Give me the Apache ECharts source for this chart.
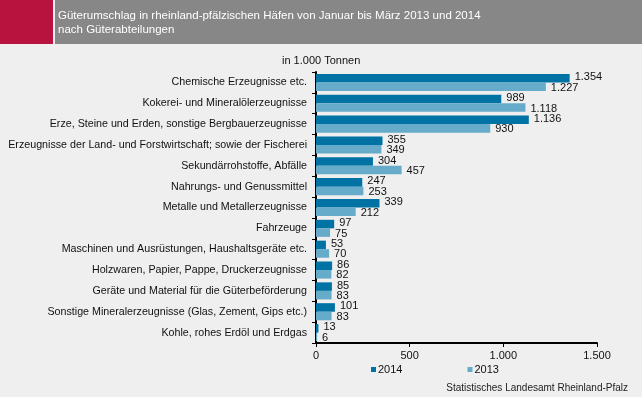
<!DOCTYPE html>
<html>
<head>
<meta charset="utf-8">
<script src="https://cdn.jsdelivr.net/npm/echarts@6/dist/echarts.min.js"></script>
<style>
  html,body{margin:0;padding:0;background:#eeefee;}
  #chart{width:642px;height:397px;}
</style>
</head>
<body>
<div id="chart"></div>
<script>
// ===== Daten =====
const KATEGORIEN = [
  "Chemische Erzeugnisse etc.",
  "Kokerei- und Mineralölerzeugnisse",
  "Erze, Steine und Erden, sonstige Bergbauerzeugnisse",
  "Erzeugnisse der Land- und Forstwirtschaft; sowie der Fischerei",
  "Sekundärrohstoffe, Abfälle",
  "Nahrungs- und Genussmittel",
  "Metalle und Metallerzeugnisse",
  "Fahrzeuge",
  "Maschinen und Ausrüstungen, Haushaltsgeräte etc.",
  "Holzwaren, Papier, Pappe, Druckerzeugnisse",
  "Geräte und Material für die Güterbeförderung",
  "Sonstige Mineralerzeugnisse (Glas, Zement, Gips etc.)",
  "Kohle, rohes Erdöl und Erdgas"
];
const WERTE_2014 = [1354, 989, 1136, 355, 304, 247, 339, 97, 53, 86, 85, 101, 13];
const WERTE_2013 = [1227, 1118, 930, 349, 457, 253, 212, 75, 70, 82, 83, 83, 6];
const X_MAX = 1500, X_STEP = 500;

const TITEL = "Güterumschlag in rheinland-pfälzischen Häfen von Januar bis März 2013 und 2014\nnach Güterabteilungen";
const EINHEIT = "in 1.000 Tonnen";
const QUELLE = "Statistisches Landesamt Rheinland-Pfalz";

// ===== Helfer =====
function fmtDE(v){ return String(v).replace(/\B(?=(\d{3})+(?!\d))/g, "."); }

const FONT = "Liberation Sans, Arial, sans-serif";
const chart = echarts.init(document.getElementById('chart'), null, {renderer:'canvas'});

chart.setOption({
  backgroundColor:'#eeefee',
  textStyle:{fontFamily:FONT},
  animation:false,
  graphic:[
    {type:'rect', left:0, top:0, shape:{width:53, height:44}, style:{fill:'#b8123f'}},
    {type:'rect', left:55, top:0, shape:{width:587, height:44}, style:{fill:'#878788'}},
    {type:'text', left:58, top:9, style:{text:TITEL, fill:'#ffffff', font:'11.5px '+FONT, lineHeight:14}},
    {type:'text', left:282, top:55, style:{text:EINHEIT, fill:'#111', font:'11px '+FONT}},
    {type:'text', right:14, top:383, style:{text:QUELLE, fill:'#222', font:'10px '+FONT}}
  ],
  grid:{left:316, right:45, top:72, bottom:54, containLabel:false},
  legend:{
    bottom:17, left:366, itemGap:65, itemWidth:5, itemHeight:5, icon:'rect',
    textStyle:{fontSize:11, color:'#111', padding:[0,0,0,-3]},
    data:['2014','2013']
  },
  xAxis:{
    type:'value', min:0, max:X_MAX, interval:X_STEP,
    axisLine:{show:true, lineStyle:{color:'#000', width:2}},
    axisTick:{show:true, length:4, lineStyle:{color:'#000', width:1}},
    splitLine:{show:false},
    axisLabel:{color:'#111', fontSize:11, margin:7, formatter:fmtDE}
  },
  yAxis:{
    type:'category', inverse:true, data:KATEGORIEN,
    axisLine:{show:true, lineStyle:{color:'#000', width:2}},
    axisTick:{show:true, length:4, lineStyle:{color:'#000', width:1}},
    axisLabel:{color:'#111', fontSize:10.7, margin:9}
  },
  series:[
    {name:'2014', type:'bar', data:WERTE_2014, barGap:'0%', barCategoryGap:'18%',
     itemStyle:{color:'#0072a3'},
     label:{show:true, position:'right', distance:5, offset:[0,-1], color:'#111', fontSize:11, formatter:p=>fmtDE(p.value)}},
    {name:'2013', type:'bar', data:WERTE_2013, barGap:'0%', barCategoryGap:'18%',
     itemStyle:{color:'#67abca'},
     label:{show:true, position:'right', distance:5, offset:[0,1], color:'#111', fontSize:11, formatter:p=>fmtDE(p.value)}}
  ]
});

window.addEventListener('resize', ()=>chart.resize());
</script>
</body>
</html>
